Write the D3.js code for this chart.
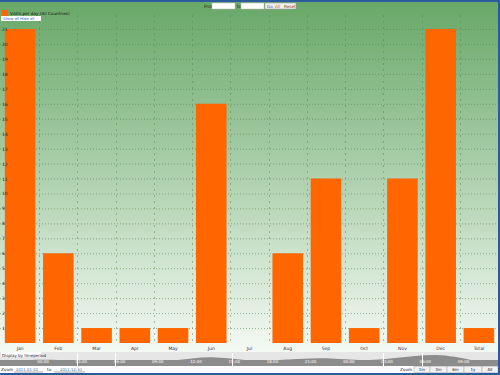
<!DOCTYPE html>
<html>
<head>
<meta charset="utf-8">
<script src="https://cdn.jsdelivr.net/npm/d3@7/dist/d3.min.js"></script>
<style>
  html, body { margin: 0; padding: 0; background: #ffffff; }
  svg { display: block; font-family: "DejaVu Sans", Arial, sans-serif; }
</style>
</head>
<body>
<svg id="chart" width="500" height="375"></svg>
<script>
// ---- data ----
const categories = ["Jan", "Feb", "Mar", "Apr", "May", "Jun", "Jul", "Aug", "Sep", "Oct", "Nov", "Dec", "Total"];
const values = [21, 6, 1, 1, 1, 16, 0, 6, 11, 1, 11, 21, 1];
const yTicks = d3.range(0, 22);
const seriesName = "Visits per day (All Countries)";
const navLabels = ["00:00", "03:00", "06:00", "09:00", "12:00", "15:00", "18:00", "21:00", "00:00", "03:00", "06:00", "09:00"];

const W = 500, H = 375;
const svg = d3.select("#chart");

// gradient background
const defs = svg.append("defs");
const grad = defs.append("linearGradient").attr("id", "bg").attr("x1", 0).attr("y1", 0).attr("x2", 0).attr("y2", 1);
grad.append("stop").attr("offset", "0%").attr("stop-color", "#68a868");
grad.append("stop").attr("offset", "100%").attr("stop-color", "#f4f9f4");

svg.append("rect").attr("x", 0).attr("y", 0).attr("width", W).attr("height", H).attr("fill", "#ffffff");
svg.append("rect").attr("x", 0).attr("y", 2).attr("width", 498).attr("height", 350).attr("fill", "url(#bg)");

// scales
const x = d3.scaleBand().domain(categories).range([1, 498]).paddingInner(0.2).paddingOuter(0.1);
const y = d3.scaleLinear().domain([0, 21]).range([343, 29]);

// horizontal dotted grid
svg.append("g").selectAll("line").data(yTicks.slice(1)).join("line")
  .attr("x1", 0).attr("x2", 497)
  .attr("y1", d => y(d) + 0.5).attr("y2", d => y(d) + 0.5)
  .attr("stroke", "#4f804f").attr("stroke-opacity", 0.55).attr("stroke-width", 1).attr("stroke-dasharray", "1,2");

// vertical dashed grid at band boundaries
const step = x.step();
const bounds = categories.slice(1).map(c => x(c) - step * x.paddingInner() / 2);
svg.append("g").selectAll("line").data(bounds).join("line")
  .attr("x1", d => Math.round(d) + 0.5).attr("x2", d => Math.round(d) + 0.5)
  .attr("y1", 15).attr("y2", 343)
  .attr("stroke", "#4f804f").attr("stroke-opacity", 0.45).attr("stroke-width", 1).attr("stroke-dasharray", "2,4");

// bars
svg.append("g").selectAll("rect").data(values).join("rect")
  .attr("x", (d, i) => x(categories[i]))
  .attr("width", x.bandwidth())
  .attr("y", d => y(d))
  .attr("height", d => y(0) - y(d))
  .attr("fill", "#ff6600");

// y axis labels (drawn on top, inside plot)
svg.append("g").selectAll("text").data(yTicks.slice(1)).join("text")
  .attr("x", 2).attr("y", d => y(d) + 2)
  .attr("font-size", 4.5).attr("fill", "#222")
  .text(d => d);

// x axis labels
const xAxis = d3.axisBottom(x).tickSize(0).tickPadding(2);
const gx = svg.append("g").attr("transform", "translate(0,345)").call(xAxis);
gx.select(".domain").remove();
gx.selectAll("text").attr("font-size", 4.5).attr("fill", "#334").attr("font-family", "DejaVu Sans");

// legend
svg.append("rect").attr("x", 2).attr("y", 10).attr("width", 6).attr("height", 6).attr("fill", "#ff6600");
svg.append("text").attr("x", 10).attr("y", 14.5).attr("font-size", 4.2).attr("fill", "#111").text(seriesName);
svg.append("rect").attr("x", 1).attr("y", 16).attr("width", 40).attr("height", 5).attr("fill", "#ffffff");
svg.append("text").attr("x", 3).attr("y", 20).attr("font-size", 3.8).attr("fill", "#3366cc").text("Show all   Hide all");

// top range inputs
svg.append("text").attr("x", 204).attr("y", 8).attr("font-size", 4.5).attr("fill", "#222").text("From");
svg.append("rect").attr("x", 212).attr("y", 3).attr("width", 23).attr("height", 6).attr("fill", "#fff").attr("stroke", "#bbb").attr("stroke-width", 0.5);
svg.append("text").attr("x", 237).attr("y", 8).attr("font-size", 4.5).attr("fill", "#222").text("to");
svg.append("rect").attr("x", 241).attr("y", 3).attr("width", 23).attr("height", 6).attr("fill", "#fff").attr("stroke", "#bbb").attr("stroke-width", 0.5);
svg.append("rect").attr("x", 265).attr("y", 3).attr("width", 31).attr("height", 6).attr("fill", "#eeeeee").attr("stroke", "#999").attr("stroke-width", 0.5);
svg.append("text").attr("x", 267).attr("y", 8).attr("font-size", 4.2).attr("fill", "#3355aa").text("Go");
svg.append("text").attr("x", 275).attr("y", 8).attr("font-size", 4.2).attr("fill", "#cc6600").text("All");
svg.append("text").attr("x", 284).attr("y", 8).attr("font-size", 4.2).attr("fill", "#993300").text("Reset");

// navigator
const ny = d3.scaleLinear().domain([0, 21]).range([362, 353]);
svg.append("rect").attr("x", 0).attr("y", 352).attr("width", 498).attr("height", 14).attr("fill", "#e6e6e6");
const area = d3.area()
  .x((d, i) => x(categories[i]) + x.bandwidth() / 2)
  .y0(366).y1(d => ny(d))
  .curve(d3.curveBasis);
const navData = [values[0] * 0.2, ...values.slice(1)];
svg.append("path").datum(navData).attr("d", area).attr("fill", "#8c8c8c");
svg.append("rect").attr("x", 0).attr("y", 360).attr("width", 498).attr("height", 6).attr("fill", "#8c8c8c");
[77, 115, 232, 383, 422].forEach(px => {
  svg.append("line").attr("x1", px + 0.5).attr("x2", px + 0.5).attr("y1", 353).attr("y2", 366).attr("stroke", "#ffffff").attr("stroke-width", 1);
});
svg.append("g").selectAll("text").data(navLabels).join("text")
  .attr("x", (d, i) => x(categories[i + 1]))
  .attr("y", 362.5).attr("text-anchor", "middle")
  .attr("font-size", 4).attr("fill", "#ffffff").text(d => d);
svg.append("rect").attr("x", 1).attr("y", 352).attr("width", 40).attr("height", 5).attr("fill", "#ffffff");
svg.append("text").attr("x", 2).attr("y", 356.5).attr("font-size", 4).attr("fill", "#223").text("Display by timeperiod");

// bottom controls
svg.append("text").attr("x", 1).attr("y", 371).attr("font-size", 4.2).attr("fill", "#222").text("Zoom");
svg.append("line").attr("x1", 14).attr("x2", 43).attr("y1", 372).attr("y2", 372).attr("stroke", "#888").attr("stroke-width", 0.7);
svg.append("text").attr("x", 16).attr("y", 370.5).attr("font-size", 3.8).attr("fill", "#3366aa").text("2011-01-01");
svg.append("text").attr("x", 47).attr("y", 371).attr("font-size", 4.2).attr("fill", "#222").text("to");
svg.append("line").attr("x1", 54).attr("x2", 85).attr("y1", 372).attr("y2", 372).attr("stroke", "#888").attr("stroke-width", 0.7);
svg.append("text").attr("x", 60).attr("y", 370.5).attr("font-size", 3.8).attr("fill", "#3366aa").text("2011-12-31");

const btns = [["1m", 414, 16], ["3m", 430, 17], ["6m", 447, 17], ["1y", 464, 18], ["All", 482, 16]];
svg.append("text").attr("x", 400).attr("y", 371).attr("font-size", 4.2).attr("fill", "#222").text("Zoom");
btns.forEach(([t, bx, bw]) => {
  svg.append("rect").attr("x", bx).attr("y", 366.5).attr("width", bw).attr("height", 6).attr("fill", "#f2f2f2").attr("stroke", "#aaa").attr("stroke-width", 0.5);
  svg.append("text").attr("x", bx + bw / 2).attr("y", 371).attr("text-anchor", "middle").attr("font-size", 4).attr("fill", "#223").text(t);
});

// frame
svg.append("rect").attr("x", 0).attr("y", 0).attr("width", W).attr("height", 2).attr("fill", "#2b5a9e");
svg.append("rect").attr("x", 0).attr("y", 373).attr("width", W).attr("height", 2).attr("fill", "#2b5a9e");
svg.append("rect").attr("x", 498).attr("y", 0).attr("width", 2).attr("height", H).attr("fill", "#2b5a9e");
</script>
</body>
</html>
